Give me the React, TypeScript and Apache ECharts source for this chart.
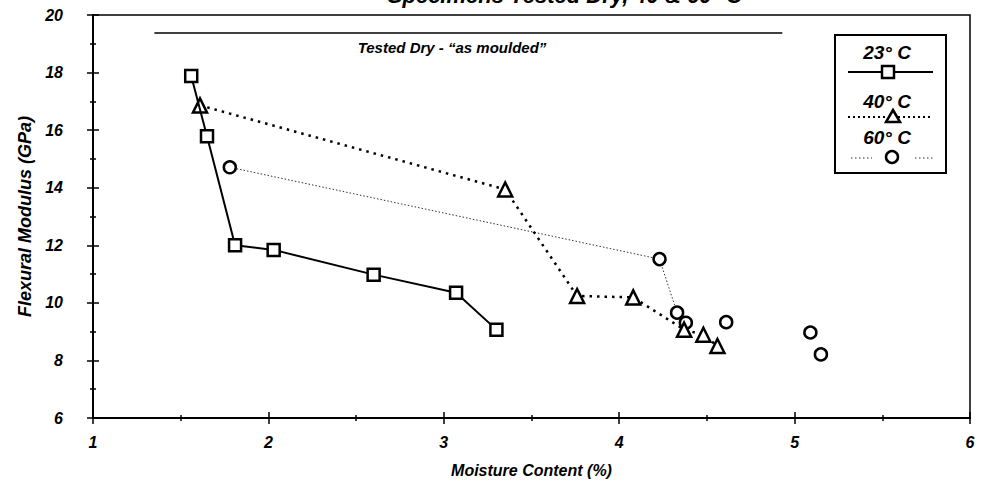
import React, { useEffect, useRef } from "react";
import * as echarts from "echarts";

// ---- data ----
const xTicks = [1, 2, 3, 4, 5, 6];
const yTicks = [6, 8, 10, 12, 14, 16, 18, 20];
const seriesNames = ["23° C", "40° C", "60° C"];
const x23 = [1.56, 1.65, 1.81, 2.03, 2.6, 3.07, 3.3];
const y23 = [17.88, 15.79, 12.0, 11.84, 10.98, 10.35, 9.07];
const x40 = [1.61, 3.35, 3.76, 4.08, 4.37, 4.48, 4.56];
const y40 = [16.86, 13.94, 10.24, 10.19, 9.07, 8.89, 8.5];
const x60 = [1.78, 4.23, 4.33, 4.38, 4.61, 5.09, 5.15];
const y60 = [14.71, 11.52, 9.66, 9.31, 9.33, 8.97, 8.21];
const dryLineX = [1.35, 4.93];
const dryLineY = 19.37;
const titleText = "Specimens Tested Dry, 40 & 60° C";
const dryText = "Tested Dry - “as moulded”";
const xName = "Moisture Content (%)";
const yName = "Flexural Modulus (GPa)";

const FONT = "'Liberation Sans', Arial, sans-serif";
const pairs = (xs: number[], ys: number[]) => xs.map((x, i) => [x, ys[i]]);

export default function App() {
  const ref = useRef<HTMLDivElement>(null);
  useEffect(() => {
    if (!ref.current) return;
    const chart = echarts.init(ref.current, undefined, { renderer: "svg" });
    const labelStyle = {
      color: "#000",
      fontSize: 16,
      fontWeight: "bold" as const,
      fontStyle: "italic" as const,
      fontFamily: FONT,
    };
    const markerStyle = { color: "#fff", borderColor: "#000", borderWidth: 2.5, opacity: 1 };
    const d60 = pairs(x60, y60);
    const tick = { color: "#000", width: 1.5 };
    const option: any = {
      animation: false,
      backgroundColor: "#fff",
      grid: {
        left: 93,
        right: 21,
        top: 15,
        bottom: 73,
        show: true,
        borderColor: "#000",
        borderWidth: 1.5,
        backgroundColor: "transparent",
      },
      xAxis: [
        {
          type: "value",
          min: xTicks[0],
          max: xTicks[xTicks.length - 1],
          interval: 1,
          position: "bottom",
          axisLine: { show: true, onZero: false, lineStyle: { color: "#000", width: 2 } },
          axisTick: { show: true, length: 6, lineStyle: tick },
          minorTick: { show: true, splitNumber: 2, length: 3, lineStyle: tick },
          splitLine: { show: false },
          axisLabel: { ...labelStyle, margin: 16 },
          name: xName,
          nameLocation: "middle",
          nameGap: 44,
          nameTextStyle: { ...labelStyle, fontSize: 16 },
        },
        {
          type: "value",
          min: xTicks[0],
          max: xTicks[xTicks.length - 1],
          interval: 1,
          position: "bottom",
          axisLine: { show: false, onZero: false },
          axisTick: { show: true, inside: true, length: 6, lineStyle: tick },
          minorTick: { show: true, splitNumber: 2, length: 3, lineStyle: tick },
          splitLine: { show: false },
          axisLabel: { show: false },
        },
      ],
      yAxis: [
        {
          type: "value",
          min: yTicks[0],
          max: yTicks[yTicks.length - 1],
          interval: 2,
          position: "left",
          axisLine: { show: true, onZero: false, lineStyle: { color: "#000", width: 2 } },
          axisTick: { show: true, length: 6, lineStyle: tick },
          minorTick: { show: true, splitNumber: 2, length: 3, lineStyle: tick },
          splitLine: { show: false },
          axisLabel: { ...labelStyle, margin: 30 },
          name: yName,
          nameLocation: "middle",
          nameGap: 44,
          nameTextStyle: { ...labelStyle, fontSize: 18 },
        },
        {
          type: "value",
          min: yTicks[0],
          max: yTicks[yTicks.length - 1],
          interval: 2,
          position: "left",
          axisLine: { show: false, onZero: false },
          axisTick: { show: true, inside: true, length: 6, lineStyle: tick },
          minorTick: { show: true, splitNumber: 2, length: 3, lineStyle: tick },
          splitLine: { show: false },
          axisLabel: { show: false },
        },
      ],
      series: [
        {
          name: seriesNames[0],
          type: "line",
          data: pairs(x23, y23),
          symbol: "rect",
          symbolSize: 12,
          itemStyle: markerStyle,
          lineStyle: { color: "#000", width: 2 },
          z: 5,
          markLine: {
            silent: true,
            symbol: "none",
            label: { show: false },
            lineStyle: { color: "#000", width: 1.5, type: "solid" },
            data: [[{ coord: [dryLineX[0], dryLineY] }, { coord: [dryLineX[1], dryLineY] }]],
          },
        },
        {
          name: seriesNames[1],
          type: "line",
          data: pairs(x40, y40),
          symbol: "triangle",
          symbolSize: 14,
          itemStyle: markerStyle,
          lineStyle: { color: "#000", width: 2.5, type: [2.5, 5] },
          z: 4,
        },
        {
          name: seriesNames[2],
          type: "line",
          data: d60.slice(0, 3),
          symbol: "circle",
          symbolSize: 12,
          itemStyle: markerStyle,
          lineStyle: { color: "#333", width: 1, type: [1.5, 2] },
          z: 3,
        },
        {
          name: seriesNames[2],
          type: "scatter",
          data: d60.slice(3),
          symbol: "circle",
          symbolSize: 12,
          itemStyle: markerStyle,
          z: 3,
        },
      ],
      graphic: [
        {
          type: "text",
          x: 565,
          y: 6,
          style: {
            text: titleText,
            fill: "#000",
            font: `italic bold 22px ${FONT}`,
            textAlign: "center",
            textVerticalAlign: "bottom",
          },
        },
        {
          type: "text",
          x: 452,
          y: 47,
          style: {
            text: dryText,
            fill: "#000",
            font: `italic bold 15px ${FONT}`,
            textAlign: "center",
            textVerticalAlign: "middle",
          },
        },
        {
          type: "group",
          children: [
            { type: "rect", shape: { x: 835, y: 35, width: 111, height: 138 }, style: { fill: "#fff", stroke: "#000", lineWidth: 2 } },
            { type: "text", x: 887, y: 52, style: { text: seriesNames[0], fill: "#000", font: `italic bold 19px ${FONT}`, textAlign: "center", textVerticalAlign: "middle" } },
            { type: "line", shape: { x1: 848, y1: 72, x2: 933, y2: 72 }, style: { stroke: "#000", lineWidth: 2 } },
            { type: "rect", shape: { x: 882, y: 66, width: 12, height: 12 }, style: { fill: "#fff", stroke: "#000", lineWidth: 2.5 } },
            { type: "text", x: 887, y: 101, style: { text: seriesNames[1], fill: "#000", font: `italic bold 19px ${FONT}`, textAlign: "center", textVerticalAlign: "middle" } },
            { type: "line", shape: { x1: 848, y1: 117, x2: 933, y2: 117 }, style: { stroke: "#000", lineWidth: 2, lineDash: [2, 3] } },
            { type: "polygon", shape: { points: [[893, 110], [900, 122], [886, 122]] }, style: { fill: "#fff", stroke: "#000", lineWidth: 2.5 } },
            { type: "text", x: 887, y: 137, style: { text: seriesNames[2], fill: "#000", font: `italic bold 19px ${FONT}`, textAlign: "center", textVerticalAlign: "middle" } },
            { type: "line", shape: { x1: 851, y1: 158, x2: 872, y2: 158 }, style: { stroke: "#333", lineWidth: 1, lineDash: [1.5, 2.5] } },
            { type: "line", shape: { x1: 915, y1: 158, x2: 935, y2: 158 }, style: { stroke: "#333", lineWidth: 1, lineDash: [1.5, 2.5] } },
            { type: "circle", shape: { cx: 892, cy: 157, r: 6 }, style: { fill: "#fff", stroke: "#000", lineWidth: 2.5 } },
          ],
        },
      ],
    };
    chart.setOption(option);
    return () => chart.dispose();
  }, []);
  return (
    <div
      ref={ref}
      style={{ position: "fixed", left: 0, top: 0, width: 991, height: 491, background: "#fff" }}
    />
  );
}
